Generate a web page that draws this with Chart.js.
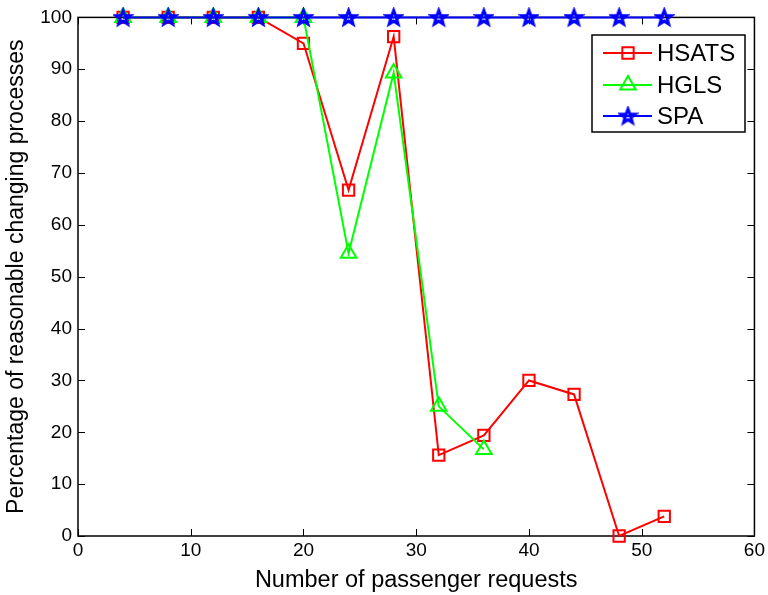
<!DOCTYPE html>
<html>
<head>
<meta charset="utf-8">
<script src="https://cdn.jsdelivr.net/npm/chart.js@4/dist/chart.umd.min.js"></script>
<style>
  html, body { margin: 0; padding: 0; background: #fff; }
  #wrap { width: 768px; height: 595px; }
</style>
</head>
<body>
<div id="wrap"><canvas id="chart" width="768" height="595"></canvas></div>
<script>
// data
const xRequests = [4, 8, 12, 16, 20, 24, 28, 32, 36, 40, 44, 48, 52];
const hsats = [100, 100, 100, 100, 95, 66.7, 96.3, 15.6, 19.4, 30, 27.3, 0, 3.8];
const hgls = [100, 100, 100, 100, 100, 54.5, 89.3, 25, 16.7];
const spa = [100, 100, 100, 100, 100, 100, 100, 100, 100, 100, 100, 100, 100];
const xTicks = [0, 10, 20, 30, 40, 50, 60];
const yTicks = [0, 10, 20, 30, 40, 50, 60, 70, 80, 90, 100];

const FONT = '"Liberation Sans", Arial, sans-serif';

function toPoints(xs, ys) {
  return ys.map((y, i) => ({ x: xs[i], y: y }));
}

// 5-pointed star marker like matlab's pentagram
function makeStar(color, r) {
  const c = document.createElement('canvas');
  const s = Math.ceil(r * 2 + 6);
  c.width = s; c.height = s;
  const g = c.getContext('2d');
  const cx = s / 2, cy = s / 2 + 0.5;
  g.beginPath();
  for (let i = 0; i < 10; i++) {
    const rad = i % 2 === 0 ? r : r * 0.42;
    const a = -Math.PI / 2 + i * Math.PI / 5;
    const px = cx + rad * Math.cos(a), py = cy + rad * Math.sin(a);
    if (i === 0) g.moveTo(px, py); else g.lineTo(px, py);
  }
  g.closePath();
  g.strokeStyle = color;
  g.lineJoin = 'miter';
  g.lineWidth = 3;
  g.stroke();
  return c;
}
const starImg = makeStar('#0000ff', 7.5);

// box + inward ticks, matlab style
const boxPlugin = {
  id: 'box',
  beforeDatasetsDraw(chart) {
    const { ctx, chartArea: a, scales } = chart;
    ctx.save();
    ctx.strokeStyle = '#000';
    ctx.lineWidth = 1.5;
    ctx.strokeRect(a.left, a.top, a.right - a.left, a.bottom - a.top);
    ctx.lineWidth = 1;
    ctx.beginPath();
    xTicks.forEach(v => {
      const px = Math.round(scales.x.getPixelForValue(v)) + 0.5;
      ctx.moveTo(px, a.bottom); ctx.lineTo(px, a.bottom - 7);
      ctx.moveTo(px, a.top); ctx.lineTo(px, a.top + 7);
    });
    yTicks.forEach(v => {
      const py = Math.round(scales.y.getPixelForValue(v)) + 0.5;
      ctx.moveTo(a.left, py); ctx.lineTo(a.left + 7, py);
      ctx.moveTo(a.right, py); ctx.lineTo(a.right - 7, py);
    });
    ctx.stroke();
    ctx.restore();
  },
  afterDraw(chart) {
    const { ctx } = chart;
    ctx.save();
    // legend box
    const lx = 592, ly = 35, lw = 153, lh = 97;
    ctx.fillStyle = '#fff';
    ctx.fillRect(lx, ly, lw, lh);
    ctx.strokeStyle = '#000';
    ctx.lineWidth = 1.5;
    ctx.strokeRect(lx, ly, lw, lh);
    const rowsY = [53, 85, 116];
    chart.data.datasets.forEach((ds, i) => {
      const y = rowsY[i];
      ctx.strokeStyle = ds.borderColor;
      ctx.fillStyle = 'rgba(0,0,0,0)';
      ctx.lineWidth = 2;
      ctx.beginPath();
      ctx.moveTo(603, y); ctx.lineTo(652, y);
      ctx.stroke();
      if (ds.pointStyle instanceof HTMLCanvasElement) {
        ctx.drawImage(ds.pointStyle, 628 - ds.pointStyle.width / 2, y - ds.pointStyle.height / 2);
      } else {
        Chart.helpers.drawPoint(ctx, {
          pointStyle: ds.pointStyle, radius: ds.pointRadius, borderWidth: 2, rotation: 0
        }, 628, y);
      }
      ctx.fillStyle = '#000';
      ctx.font = '24px ' + FONT;
      ctx.textBaseline = 'middle';
      ctx.textAlign = 'left';
      ctx.fillText(ds.label, 657, y + 1);
    });
    ctx.restore();
  }
};

new Chart(document.getElementById('chart'), {
  type: 'line',
  data: {
    datasets: [
      {
        label: 'HSATS',
        data: toPoints(xRequests, hsats),
        borderColor: '#ff0000',
        backgroundColor: 'transparent',
        pointStyle: 'rect',
        pointRadius: 8,
        pointBorderWidth: 2,
        borderWidth: 2,
        clip: false,
        order: 3
      },
      {
        label: 'HGLS',
        data: toPoints(xRequests, hgls),
        borderColor: '#00ff00',
        backgroundColor: 'transparent',
        pointStyle: 'triangle',
        pointRadius: 9,
        pointBorderWidth: 2,
        borderWidth: 2,
        clip: false,
        order: 2
      },
      {
        label: 'SPA',
        data: toPoints(xRequests, spa),
        borderColor: '#0000ff',
        backgroundColor: 'transparent',
        pointStyle: starImg,
        pointRadius: 8,
        borderWidth: 2,
        clip: false,
        order: 1
      }
    ]
  },
  options: {
    responsive: false,
    animation: false,
    layout: { padding: { top: 14, right: 12, left: 0, bottom: 0 } },
    plugins: { legend: { display: false }, tooltip: { enabled: false } },
    scales: {
      x: {
        type: 'linear',
        min: 0, max: 60,
        afterBuildTicks: s => { s.ticks = xTicks.map(v => ({ value: v })); },
        afterFit: s => { s.height = 59; },
        grid: { display: false, drawTicks: false },
        border: { display: false },
        ticks: { color: '#000', font: { family: FONT, size: 19 }, padding: 3, maxRotation: 0 },
        title: { display: true, text: 'Number of passenger requests', color: '#000', font: { family: FONT, size: 23.5 }, padding: { top: 2, bottom: 0 } }
      },
      y: {
        min: 0, max: 100,
        afterBuildTicks: s => { s.ticks = yTicks.map(v => ({ value: v })); },
        afterFit: s => { s.width = 78; },
        grid: { display: false, drawTicks: false },
        border: { display: false },
        ticks: { color: '#000', font: { family: FONT, size: 19 }, padding: 6 },
        title: { display: true, text: 'Percentage of reasonable changing processes', color: '#000', font: { family: FONT, size: 23 }, padding: { top: 3, bottom: 0 } }
      }
    }
  },
  plugins: [boxPlugin]
});
</script>
</body>
</html>
